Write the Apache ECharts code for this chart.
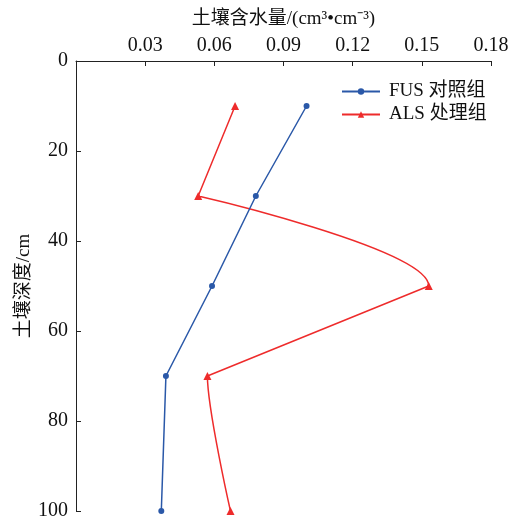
<!DOCTYPE html>
<html>
<head>
<meta charset="utf-8">
<script src="https://cdn.jsdelivr.net/npm/echarts@6/dist/echarts.min.js"></script>
<style>
  html, body { margin: 0; padding: 0; background: #fff; }
  #chart { width: 514px; height: 523px; }
</style>
</head>
<body>
<div id="chart"></div>
<script>
// Soil moisture profile: depth (cm) vs volumetric water content
const depths = [10, 30, 50, 70, 100];
const fusMoisture = [0.100, 0.078, 0.059, 0.039, 0.037];
const alsMoisture = [0.069, 0.053, 0.153, 0.057, 0.067];
// which ALS segments (i -> i+1) are drawn as straight lines; the rest are curved
const alsStraight = [true, false, true, false];

const seriesNames = ['FUS 对照组', 'ALS 处理组'];
const xTitle = '土壤含水量/(cm³•cm⁻³)';
const yTitle = '土壤深度/cm';

const BLUE = '#2a58a8';
const RED = '#ee2b2b';
const FONT = '"Liberation Serif", "Noto Sans CJK SC", serif';

const fusData = depths.map((d, i) => [fusMoisture[i], d]);

// straight part: break the line wherever the segment is curved
const alsStraightData = [];
depths.forEach((d, i) => {
  alsStraightData.push([alsMoisture[i], d]);
  if (i < alsStraight.length && !alsStraight[i]) alsStraightData.push(['-', '-']);
});

// curved part: smoothed through the points from the first curved segment on
const firstCurve = alsStraight.indexOf(false);
const alsCurveData = depths.slice(firstCurve).map((d, k) => [alsMoisture[firstCurve + k], d]);
const curvePieces = [];
alsStraight.forEach((s, i) => {
  if (!s) curvePieces.push({ gte: depths[i], lte: depths[i + 1], color: RED });
});

const chart = echarts.init(document.getElementById('chart'), null, { renderer: 'canvas' });
chart.setOption({
  animation: false,
  backgroundColor: '#fff',
  textStyle: { fontFamily: FONT, color: '#111' },
  grid: { left: 76, right: 23, top: 61, bottom: 12, outerBoundsMode: 'none', containLabel: false },
  xAxis: {
    type: 'value',
    position: 'top',
    min: 0, max: 0.18, interval: 0.03,
    name: xTitle,
    nameLocation: 'middle',
    nameMoveOverlap: false,
    nameGap: 32,
    nameTextStyle: { fontFamily: FONT, fontSize: 19, color: '#111' },
    axisLine: { lineStyle: { color: '#222', width: 1 } },
    axisTick: { inside: true, length: 5, lineStyle: { color: '#222' } },
    axisLabel: {
      fontFamily: FONT, fontSize: 20, color: '#111', margin: 5,
      formatter: v => (v === 0 ? '' : v.toFixed(2))
    },
    splitLine: { show: false }
  },
  yAxis: {
    type: 'value',
    inverse: true,
    min: 0, max: 100, interval: 20,
    name: yTitle,
    nameLocation: 'middle',
    nameMoveOverlap: false,
    nameRotate: 90,
    nameGap: 42,
    nameTextStyle: { fontFamily: FONT, fontSize: 19, color: '#111' },
    axisLine: { lineStyle: { color: '#222', width: 1 } },
    axisTick: { inside: true, length: 5, lineStyle: { color: '#222' } },
    axisLabel: { fontFamily: FONT, fontSize: 20, color: '#111', margin: 8 },
    splitLine: { show: false }
  },
  legend: {
    data: seriesNames,
    orient: 'vertical',
    left: 341, top: 82,
    padding: 0,
    itemWidth: 38, itemHeight: 8, itemGap: 4,
    textStyle: { fontFamily: FONT, fontSize: 19, lineHeight: 17, color: '#111', padding: [0, 0, 0, 4] }
  },
  visualMap: {
    type: 'piecewise',
    show: false,
    seriesIndex: 2,
    dimension: 1,
    pieces: curvePieces,
    outOfRange: { color: 'rgba(255,255,255,0)' }
  },
  series: [
    {
      name: seriesNames[0],
      type: 'line',
      data: fusData,
      clip: false,
      symbol: 'circle',
      symbolSize: 6,
      itemStyle: { color: BLUE },
      lineStyle: { color: BLUE, width: 1.5 },
      z: 3
    },
    {
      name: seriesNames[1],
      type: 'line',
      data: alsStraightData,
      clip: false,
      connectNulls: false,
      symbol: 'triangle',
      symbolSize: 8,
      itemStyle: { color: RED },
      lineStyle: { color: RED, width: 1.5 },
      z: 3
    },
    {
      name: 'ALS 曲线',
      type: 'line',
      data: alsCurveData,
      clip: false,
      smooth: 0.4,
      showSymbol: false,
      lineStyle: { width: 1.5 },
      z: 2
    }
  ]
});
</script>
</body>
</html>
